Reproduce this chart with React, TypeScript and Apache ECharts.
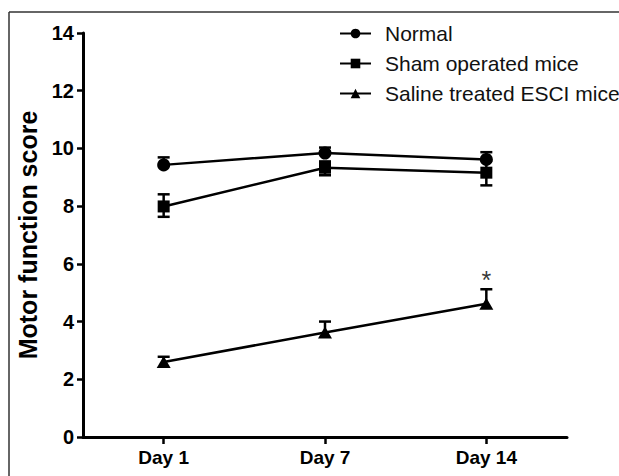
import React, { useEffect, useRef } from "react";
import * as echarts from "echarts";

const categories = ["Day 1", "Day 7", "Day 14"];
const yTicks = [0, 2, 4, 6, 8, 10, 12, 14];

const normalMean = [9.43, 9.84, 9.62];
const normalErrUp = [0.26, 0.19, 0.25];
const normalErrDown = [0, 0, 0];

const shamMean = [7.99, 9.33, 9.16];
const shamErrUp = [0.42, 0.22, 0.42];
const shamErrDown = [0.36, 0.26, 0.44];

const salineMean = [2.6, 3.62, 4.62];
const salineErrUp = [0.18, 0.38, 0.5];
const salineErrDown = [0, 0, 0];

const seriesNames = ["Normal", "Sham operated mice", "Saline treated ESCI mice"];
const annotationCategory = "Day 14";
const annotationValue = 5.45;
const annotationText = "*";

const FONT = "'Liberation Sans', Arial, Helvetica, sans-serif";

function errorData(mean: number[], up: number[], down: number[]) {
  return mean.map((m, i) => [i, m, up[i], down[i]]);
}

function errorSeries(name: string, mean: number[], up: number[], down: number[]) {
  return {
    type: "custom",
    name: name + " error",
    z: 1,
    silent: true,
    data: errorData(mean, up, down),
    renderItem: (params: any, api: any) => {
      const x = api.value(0);
      const y = api.value(1);
      const u = api.value(2);
      const d = api.value(3);
      const top = api.coord([x, y + u]);
      const bot = api.coord([x, y - d]);
      const half = 6;
      const style = { stroke: "#000", lineWidth: 2.5 };
      const children: any[] = [
        { type: "line", shape: { x1: top[0], y1: top[1], x2: bot[0], y2: bot[1] }, style },
      ];
      if (u > 0) {
        children.push({
          type: "line",
          shape: { x1: top[0] - half, y1: top[1], x2: top[0] + half, y2: top[1] },
          style,
        });
      }
      if (d > 0) {
        children.push({
          type: "line",
          shape: { x1: bot[0] - half, y1: bot[1], x2: bot[0] + half, y2: bot[1] },
          style,
        });
      }
      return { type: "group", children };
    },
  };
}

function lineSeries(name: string, data: number[], symbol: string, size: any) {
  return {
    type: "line",
    name,
    data,
    z: 3,
    symbol,
    symbolSize: size,
    showAllSymbol: true,
    lineStyle: { color: "#000", width: 2.5 },
    itemStyle: { color: "#000", borderWidth: 0 },
  };
}

export default function App() {
  const ref = useRef<HTMLDivElement>(null);
  useEffect(() => {
    if (!ref.current) return;
    const chart = echarts.init(ref.current, undefined, { renderer: "svg" });
    chart.setOption({
      animation: false,
      backgroundColor: "#fff",
      grid: { left: 83, right: 52, top: 33, bottom: 39, containLabel: false },
      legend: {
        data: seriesNames,
        orient: "vertical",
        left: 334,
        top: 18,
        itemWidth: 31,
        itemHeight: 12,
        itemGap: 9,
        selectedMode: false,
        textStyle: { fontFamily: FONT, fontSize: 21, color: "#111", padding: [0, 0, 0, 9] },
      },
      xAxis: {
        type: "category",
        data: categories,
        boundaryGap: true,
        axisLine: { show: true, lineStyle: { color: "#000", width: 3 } },
        axisTick: { show: true, alignWithLabel: true, length: 7, lineStyle: { color: "#000", width: 2.5 } },
        axisLabel: { fontFamily: FONT, fontSize: 19, fontWeight: "bold", color: "#000", margin: 11 },
        splitLine: { show: false },
      },
      yAxis: {
        type: "value",
        min: yTicks[0],
        max: yTicks[yTicks.length - 1],
        interval: 2,
        name: "Motor function score",
        nameLocation: "middle",
        nameGap: 37,
        nameRotate: 90,
        nameTextStyle: { fontFamily: FONT, fontSize: 25, fontWeight: "bold", color: "#000" },
        axisLine: { show: true, lineStyle: { color: "#000", width: 3 } },
        axisTick: { show: true, length: 6, lineStyle: { color: "#000", width: 2.5 } },
        axisLabel: { fontFamily: FONT, fontSize: 20, fontWeight: "bold", color: "#000", margin: 9 },
        splitLine: { show: false },
      },
      graphic: [
        { type: "line", shape: { x1: 9, y1: 12, x2: 619, y2: 12 }, style: { stroke: "#333", lineWidth: 1.5 } },
        { type: "line", shape: { x1: 9, y1: 12, x2: 9, y2: 476 }, style: { stroke: "#333", lineWidth: 1.5 } },
      ],
      series: [
        errorSeries(seriesNames[0], normalMean, normalErrUp, normalErrDown),
        errorSeries(seriesNames[1], shamMean, shamErrUp, shamErrDown),
        errorSeries(seriesNames[2], salineMean, salineErrUp, salineErrDown),
        lineSeries(seriesNames[0], normalMean, "circle", 13),
        lineSeries(seriesNames[1], shamMean, "rect", 12),
        lineSeries(seriesNames[2], salineMean, "triangle", [14, 12]),
        {
          type: "scatter",
          name: "annotation",
          symbolSize: 0,
          silent: true,
          data: [[annotationCategory, annotationValue]],
          label: {
            show: true,
            position: "inside",
            formatter: annotationText,
            fontFamily: FONT,
            fontSize: 25,
            color: "#000",
          },
        },
      ],
    });
    return () => chart.dispose();
  }, []);
  return (
    <div
      ref={ref}
      style={{ position: "absolute", left: 0, top: 0, width: 619, height: 476 }}
    />
  );
}
